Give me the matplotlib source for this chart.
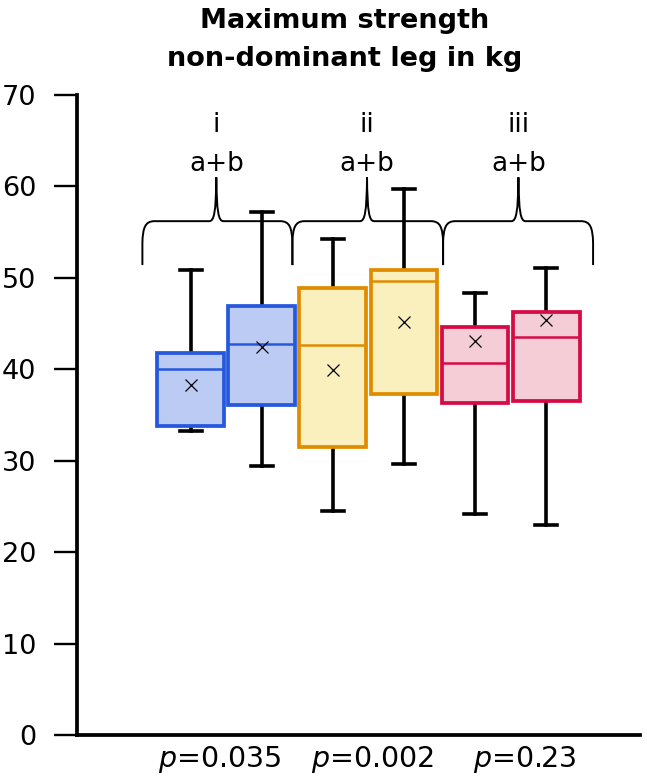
import numpy as np
import matplotlib
matplotlib.use('Agg')
import matplotlib.pyplot as plt
from matplotlib.path import Path
from matplotlib.patches import PathPatch

# box statistics, one entry per box (left to right)
q1 = [33.8, 36.1, 31.5, 37.3, 36.3, 36.5]
q3 = [41.8, 46.9, 48.9, 50.9, 44.6, 46.3]
med = [40.0, 42.8, 42.7, 49.7, 40.7, 43.5]
mean = [38.3, 42.4, 39.9, 45.2, 43.1, 45.4]
whislo = [33.3, 29.4, 24.5, 29.6, 24.2, 23.0]
whishi = [50.9, 57.2, 54.2, 59.7, 48.3, 51.1]

edge_colors = ['#2558dc', '#2558dc', '#e08c00', '#e08c00', '#d60b45', '#d60b45']
fill_colors = ['#bccbf4', '#bccbf4', '#faf0be', '#faf0be', '#f5cdd7', '#f5cdd7']

group_labels = ['i', 'ii', 'iii']
group_sub = ['a+b', 'a+b', 'a+b']
p_values = ['0.035', '0.002', '0.23']

FONT = 'DejaVu Sans'
plt.rcParams['font.family'] = FONT
plt.rcParams['mathtext.fontset'] = 'dejavusans'

fig = plt.figure(figsize=(6.47, 7.81), dpi=100)
ax = fig.add_axes([77 / 647, 46 / 781, 563 / 647, 640 / 781])

stats = []
for i in range(len(q1)):
    stats.append(dict(q1=q1[i], q3=q3[i], med=med[i], mean=mean[i],
                      whislo=whislo[i], whishi=whishi[i], fliers=[]))

pos = np.arange(1, len(stats) + 1)
bp = ax.bxp(stats, positions=pos, widths=0.94, patch_artist=True,
            showmeans=True, capwidths=0.31,
            whiskerprops=dict(color='black', lw=2.6),
            capprops=dict(color='black', lw=2.6),
            meanprops=dict(marker='x', markeredgecolor='black',
                           markersize=8, markeredgewidth=0.9))

for i, box in enumerate(bp['boxes']):
    box.set_facecolor(fill_colors[i])
    box.set_edgecolor(edge_colors[i])
    box.set_linewidth(2.7)
    box.set_zorder(3)
for i, m in enumerate(bp['medians']):
    m.set_color(edge_colors[i])
    m.set_linewidth(1.8)
    m.set_zorder(4)
for m in bp['means']:
    m.set_zorder(5)


# curly braces over each pair
def brace(ax, x0, x1, xc, ylow, ymid, ytop):
    verts = [(x0, ylow), (x0, ymid - 2.4),
             (x0 + 0.005, ymid - 0.7), (x0 + 0.04, ymid), (x0 + 0.17, ymid),
             (xc - 0.10, ymid),
             (xc - 0.03, ymid), (xc - 0.005, ymid + 1.0), (xc, ytop),
             (xc + 0.005, ymid + 1.0), (xc + 0.03, ymid), (xc + 0.10, ymid),
             (x1 - 0.17, ymid),
             (x1 - 0.04, ymid), (x1 - 0.005, ymid - 0.7), (x1, ymid - 2.4),
             (x1, ylow)]
    codes = [Path.MOVETO, Path.LINETO,
             Path.CURVE4, Path.CURVE4, Path.CURVE4,
             Path.LINETO,
             Path.CURVE4, Path.CURVE4, Path.CURVE4,
             Path.CURVE4, Path.CURVE4, Path.CURVE4,
             Path.LINETO,
             Path.CURVE4, Path.CURVE4, Path.CURVE4,
             Path.LINETO]
    ax.add_patch(PathPatch(Path(verts, codes), fill=False, lw=1.4,
                           edgecolor='black', clip_on=False))


brace_edges = [0.32, 2.43, 4.55, 6.66]
brace_tips = [1.36, 3.48, 5.61]
for k in range(3):
    brace(ax, brace_edges[k], brace_edges[k + 1], brace_tips[k], 51.4, 56.2, 61.0)
    ax.text(brace_tips[k], 66.0, group_labels[k], ha='center', va='baseline', fontsize=19)
    ax.text(brace_tips[k], 61.7, group_sub[k], ha='center', va='baseline', fontsize=19)

p_x = [1.40, 3.55, 5.70]
for k in range(3):
    ax.text(p_x[k], -3.5, r'$p$=' + p_values[k], ha='center', va='baseline',
            fontsize=20.5, clip_on=False)

ax.set_xlim(-0.6, 7.32)
ax.set_ylim(0, 70)
ax.set_yticks(np.arange(0, 71, 10))
ax.set_xticks([])
ax.spines['top'].set_visible(False)
ax.spines['right'].set_visible(False)
ax.spines['left'].set_linewidth(2.7)
ax.spines['bottom'].set_linewidth(2.7)
ax.tick_params(axis='y', direction='out', length=16.5, width=1.7, pad=13, labelsize=19.5)

fig.text(345 / 647, 1 - 28 / 781, 'Maximum strength', ha='center', va='baseline',
         fontsize=19.5, fontweight='bold')
fig.text(345 / 647, 1 - 66 / 781, 'non-dominant leg in kg', ha='center', va='baseline',
         fontsize=19.5, fontweight='bold')

fig.savefig('out.png', dpi=100)
